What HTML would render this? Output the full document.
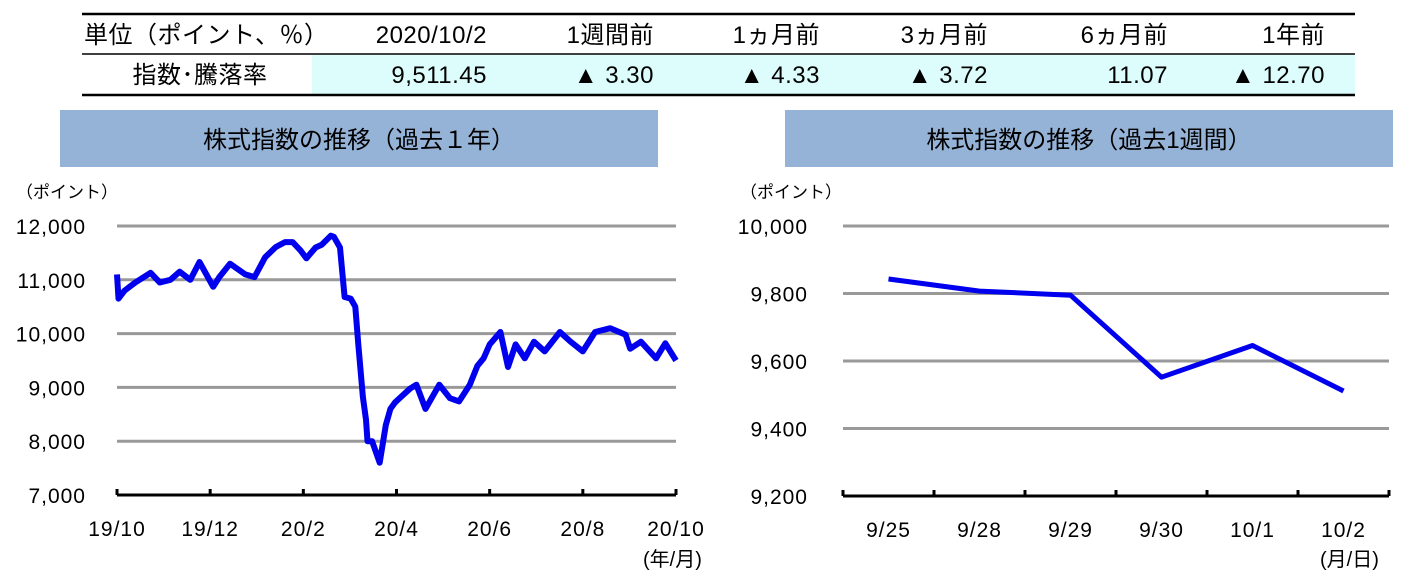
<!DOCTYPE html>
<html><head><meta charset="utf-8">
<style>
body{margin:0;width:1413px;height:579px;background:#fff;overflow:hidden;font-family:"Liberation Sans","Noto Sans CJK JP",sans-serif;}
svg text{font-family:"Liberation Sans","Noto Sans CJK JP",sans-serif;}
</style></head>
<body>
<svg id="root" width="1413" height="579" xmlns="http://www.w3.org/2000/svg">
  <g>
    <rect x="312" y="55" width="1043" height="39" fill="#ddfdfd"/>
    <line x1="82" y1="14" x2="1355" y2="14" stroke="#000" stroke-width="2.5"/>
    <line x1="82" y1="54" x2="1355" y2="54" stroke="#000" stroke-width="1.5"/>
    <line x1="82" y1="95" x2="1355" y2="95" stroke="#000" stroke-width="2.5"/>
    <g font-size="24" fill="#000" letter-spacing="0.5">
      <text x="84" y="43">単位（ポイント、％）</text>
      <text x="487" y="43" text-anchor="end">2020/10/2</text>
      <text x="654" y="43" text-anchor="end">1週間前</text>
      <text x="820" y="43" text-anchor="end">1ヵ月前</text>
      <text x="988" y="43" text-anchor="end">3ヵ月前</text>
      <text x="1168" y="43" text-anchor="end">6ヵ月前</text>
      <text x="1325" y="43" text-anchor="end">1年前</text>
      <text x="200" y="83" text-anchor="middle">指数･騰落率</text>
      <text x="487" y="83" text-anchor="end">9,511.45</text>
      <text x="654" y="83" text-anchor="end">▲ 3.30</text>
      <text x="820" y="83" text-anchor="end">▲ 4.33</text>
      <text x="988" y="83" text-anchor="end">▲ 3.72</text>
      <text x="1168" y="83" text-anchor="end">11.07</text>
      <text x="1325" y="83" text-anchor="end">▲ 12.70</text>
    </g>
  </g>
  <rect x="60" y="110" width="598" height="57" fill="#95b3d7"/>
  <text x="359" y="148" font-size="24" text-anchor="middle">株式指数の推移（過去１年）</text>
  <rect x="785" y="110" width="608" height="57" fill="#95b3d7"/>
  <text x="1089" y="148" font-size="24" text-anchor="middle">株式指数の推移（過去1週間）</text>
  <text x="16" y="198" font-size="17">（ポイント）</text>
  <text x="740" y="198" font-size="17">（ポイント）</text>
  <text x="643" y="566" font-size="20">(年/月)</text>
  <text x="1320" y="566" font-size="20">(月/日)</text>
  <g id="left"></g>
  <g id="right"></g>
</svg>
<script>
// Left chart data (days since 2019/10/2)
const leftDays=[0,1,5,12,22,28,35,41,48,54,63,67,74,84,90,97,104,110,115,120,124,130,134,140,142,146,149,153,156,158,161,163,164,167,172,176,179,182,185,192,196,202,211,218,224,231,236,240,244,251,256,261,267,273,280,290,297,305,313,323,333,336,343,353,359,366];
const leftVals=[11100,10650,10800,10950,11130,10950,11000,11150,11000,11330,10870,11050,11300,11100,11050,11420,11610,11700,11700,11550,11400,11600,11650,11820,11800,11600,10680,10650,10500,9800,8820,8400,8000,8000,7600,8300,8600,8720,8800,8980,9050,8600,9050,8800,8740,9050,9400,9540,9800,10030,9380,9800,9540,9850,9670,10030,9850,9670,10030,10100,9980,9720,9850,9540,9820,9500];
const leftTicks=["19/10","19/12","20/2","20/4","20/6","20/8","20/10"];
const leftYTicks=[7000,8000,9000,10000,11000,12000];
// Right chart data
const rightCats=["9/25","9/28","9/29","9/30","10/1","10/2"];
const rightVals=[9843,9807,9795,9552,9646,9511];
const rightYTicks=[9200,9400,9600,9800,10000];

const NS="http://www.w3.org/2000/svg";
function mk(p,t,a){const e=document.createElementNS(NS,t);for(const k in a)e.setAttribute(k,a[k]);p.appendChild(e);return e;}

(function(){
  const g=document.getElementById('left');
  const x0=117,x1=676,yTop=226,yBot=495;
  const xs=d=>x0+(x1-x0)*d/366;
  const ys=v=>yBot-(yBot-yTop)*(v-7000)/5000;
  leftYTicks.forEach(v=>{
    if(v>7000){const l=mk(g,'line',{x1:x0,x2:x1,y1:ys(v),y2:ys(v),stroke:'#999','stroke-width':3});
    
    }
    const t=mk(g,'text',{x:86,y:ys(v)+8,'font-size':21,'text-anchor':'end','letter-spacing':1});t.textContent=v.toLocaleString('en-US');
    
    
  });
  const ax=mk(g,'line',{x1:x0,x2:x1,y1:yBot,y2:yBot,stroke:'#000','stroke-width':3});
  
  
  leftTicks.forEach((s,i)=>{
    const x=x0+(x1-x0)*i/(leftTicks.length-1);
    mk(g,'line',{x1:x,x2:x,y1:yBot-6,y2:yBot,stroke:'#000','stroke-width':3});
    const t=mk(g,'text',{x:x,y:536,'font-size':21,'text-anchor':'middle','letter-spacing':1});t.textContent=s;
    
    
  });
  const n=Math.min(leftDays.length,leftVals.length);
  let d='';for(let i=0;i<n;i++)d+=(i?'L':'M')+xs(leftDays[i]).toFixed(1)+' '+ys(leftVals[i]).toFixed(1);
  const p=mk(g,'path',{d:d,fill:'none',stroke:'#0000ee','stroke-width':6,'stroke-linejoin':'round'});
  
  
})();

(function(){
  const g=document.getElementById('right');
  const x0=843,x1=1389,yTop=226,yBot=496;
  const ys=v=>yBot-(yBot-yTop)*(v-9200)/800;
  const bw=(x1-x0)/rightCats.length;
  const xs=i=>x0+bw*(i+0.5);
  rightYTicks.forEach(v=>{
    if(v>9200){const l=mk(g,'line',{x1:x0,x2:x1,y1:ys(v),y2:ys(v),stroke:'#999','stroke-width':3});
    
    }
    const t=mk(g,'text',{x:808,y:ys(v)+8,'font-size':21,'text-anchor':'end','letter-spacing':1});t.textContent=v.toLocaleString('en-US');
    
    
  });
  const ax=mk(g,'line',{x1:x0,x2:x1,y1:yBot,y2:yBot,stroke:'#000','stroke-width':3});
  
  
  for(let i=0;i<=rightCats.length;i++){const x=x0+bw*i;mk(g,'line',{x1:x,x2:x,y1:yBot-6,y2:yBot,stroke:'#000','stroke-width':3});}
  rightCats.forEach((s,i)=>{
    const t=mk(g,'text',{x:xs(i),y:537,'font-size':21,'text-anchor':'middle','letter-spacing':1});t.textContent=s;
    
    
  });
  let d='';rightVals.forEach((v,i)=>{d+=(i?'L':'M')+xs(i).toFixed(1)+' '+ys(v).toFixed(1);});
  const p=mk(g,'path',{d:d,fill:'none',stroke:'#0000ee','stroke-width':5,'stroke-linejoin':'round'});
  
  
})();
</script>
</body></html>
